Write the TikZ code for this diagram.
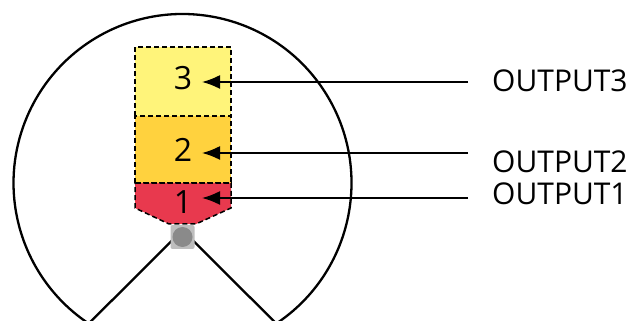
\documentclass[tikz,border=0pt]{standalone}
\usepackage{fontspec}
\setmainfont{Open Sans}
\usetikzlibrary{arrows.meta,calc}
\definecolor{yel3}{RGB}{255,244,122}
\definecolor{yel2}{RGB}{255,210,62}
\definecolor{red1}{RGB}{232,57,78}
\definecolor{sqgray}{RGB}{190,190,190}
\definecolor{dotgray}{RGB}{138,138,138}
\begin{document}
\begin{tikzpicture}[x=1pt,y=1pt,
  block/.style={dash pattern=on 5pt off 3pt, line width=1.5pt},
  digit/.style={font=\fontsize{32}{32}\selectfont, inner sep=0pt},
  outlabel/.style={font=\fontsize{30}{30}\selectfont, anchor=base west, inner sep=0pt},
  arr/.style={line width=1.7pt, -{Latex[length=18pt,width=14pt]}}]
\useasboundingbox (0,0) rectangle (634,321);
\begin{scope}
\clip (0,0) rectangle (634,321);
\coordinate (apex) at (182.5,91);
\coordinate (ctr) at (182.5,138);
\draw[line width=2.3pt] (apex) -- ($(ctr)+(-56.3:169)$) arc[start angle=-56.3, end angle=236.3, radius=169] -- cycle;
\end{scope}
\path[fill=yel3] (135,205) rectangle (231,274);
\path[fill=yel2] (135,138) rectangle (231,205);
\path[fill=red1] (135,138) -- (231,138) -- (231,113) -- (196,97) -- (169,97) -- (135,113) -- cycle;
\draw[block] (135,205) rectangle (231,274);
\draw[block] (135,138) rectangle (231,205);
\draw[block] (135,138) -- (231,138) -- (231,113) -- (196,97) -- (169,97) -- (135,113) -- cycle;
\node[fill=sqgray, rounded corners=2pt, minimum size=24pt, inner sep=0pt] (sensor) at (182.5,84) {};
\node[fill=dotgray, circle, minimum size=20pt, inner sep=0pt] (dot) at (sensor.center) {};
\node[digit] (d3) at (183,242.5) {3};
\node[digit] (d2) at (183,171) {2};
\node[digit] (d1) at (183,119) {1};
\node[outlabel] (o3) at (492,229) {OUTPUT3};
\node[outlabel] (o2) at (492,148) {OUTPUT2};
\node[outlabel] (o1) at (492,116) {OUTPUT1};
\coordinate (t3) at (468,239);
\coordinate (t2) at (468,168);
\coordinate (t1) at (468,123);
\coordinate (h3) at (202,239);
\coordinate (h2) at (202,168);
\coordinate (h1) at (202,123);
\draw[arr] (t3) -- (h3);
\draw[arr] (t2) -- (h2);
\draw[arr] (t1) -- (h1);
\end{tikzpicture}
\end{document}
